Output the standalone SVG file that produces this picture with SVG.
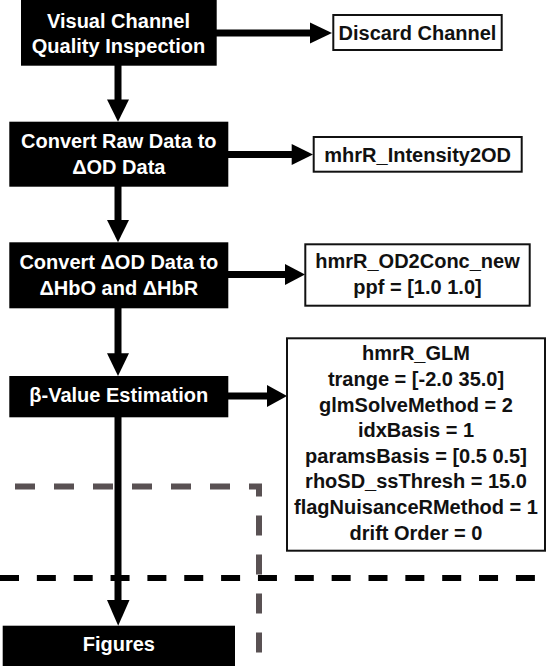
<svg xmlns="http://www.w3.org/2000/svg" width="547" height="666" viewBox="0 0 547 666">
<style>
.dark{fill:#000}
.light{fill:#fff;stroke:#111;stroke-width:2}
.wt{fill:#fff;font-family:"Liberation Sans",Arial,sans-serif;font-weight:bold;font-size:20px;text-anchor:middle}
.bt{fill:#111;font-family:"Liberation Sans",Arial,sans-serif;font-weight:bold;font-size:20px;text-anchor:middle}
.shaft{stroke:#000;stroke-width:7;fill:none}
.head{fill:#000}
.gdash{stroke:#595153;stroke-width:6;fill:none;stroke-dasharray:20 19}
.bdash{stroke:#000;stroke-width:6;fill:none;stroke-dasharray:19 17.85}
</style>
<g id="separators">
<path class="gdash" d="M15 486.5 H259 V666"/>
<path class="bdash" d="M0 578 H537"/>
</g>
<g id="connectors">
<path class="shaft" d="M216 33 H311"/>
<polygon class="head" points="310,22.5 332,33 310,43.5"/>
<path class="shaft" d="M118 65 V100"/>
<polygon class="head" points="107,99.5 129,99.5 118,121.7"/>
<path class="shaft" d="M228 154.5 H293"/>
<polygon class="head" points="291.7,144 313,154.5 291.7,165"/>
<path class="shaft" d="M118 186 V221"/>
<polygon class="head" points="107,220 129,220 118,242.3"/>
<path class="shaft" d="M228 274.5 H286"/>
<polygon class="head" points="285,264 305,274.5 285,285"/>
<path class="shaft" d="M118 308 V354"/>
<polygon class="head" points="107,353.3 129,353.3 118,376"/>
<path class="shaft" d="M228 396 H268"/>
<polygon class="head" points="267,385 287,396 267,407"/>
<path class="shaft" d="M118 417 V601"/>
<polygon class="head" points="107,600 129.5,600 118.2,625.7"/>
</g>
<g id="quality">
<rect class="dark" x="21" y="-1" width="195.7" height="66.7"/>
<text class="wt" x="118.5" y="27.5">Visual Channel</text>
<text class="wt" x="118.5" y="52.7">Quality Inspection</text>
</g>
<g id="discard">
<rect class="light" x="333.3" y="15" width="168.4" height="35"/>
<text class="bt" x="417.5" y="39.5">Discard Channel</text>
</g>
<g id="convert-raw">
<rect class="dark" x="9.3" y="121.7" width="219" height="65"/>
<text class="wt" x="118.8" y="147.5">Convert Raw Data to</text>
<text class="wt" x="118.8" y="173.5">ΔOD Data</text>
</g>
<g id="intensity2od">
<rect class="light" x="313.7" y="137" width="208" height="34.7"/>
<text class="bt" x="417.7" y="161.7">mhrR_Intensity2OD</text>
</g>
<g id="convert-od">
<rect class="dark" x="9.3" y="242.3" width="219" height="66"/>
<text class="wt" x="118.8" y="268.5">Convert ΔOD Data to</text>
<text class="wt" x="118.8" y="295">ΔHbO and ΔHbR</text>
</g>
<g id="od2conc">
<rect class="light" x="305.3" y="244.3" width="224.4" height="61.4"/>
<text class="bt" x="417.5" y="267.5">hmrR_OD2Conc_new</text>
<text class="bt" x="417.5" y="293.5">ppf = [1.0 1.0]</text>
</g>
<g id="beta">
<rect class="dark" x="9.3" y="376" width="219" height="41.3"/>
<text class="wt" x="118.8" y="402">β-Value Estimation</text>
</g>
<g id="glm">
<rect class="light" x="287" y="338.3" width="258" height="212.4"/>
<text class="bt" x="416" y="360">hmrR_GLM</text>
<text class="bt" x="416" y="386">trange = [-2.0 35.0]</text>
<text class="bt" x="416" y="411.7">glmSolveMethod = 2</text>
<text class="bt" x="416" y="437">idxBasis = 1</text>
<text class="bt" x="416" y="462.7">paramsBasis = [0.5 0.5]</text>
<text class="bt" x="416" y="488.3">rhoSD_ssThresh = 15.0</text>
<text class="bt" x="416" y="514">flagNuisanceRMethod = 1</text>
<text class="bt" x="416" y="539.5">drift Order = 0</text>
</g>
<g id="figures">
<rect class="dark" x="2.7" y="625.7" width="232.3" height="45"/>
<text class="wt" x="118.8" y="651">Figures</text>
</g>
</svg>
